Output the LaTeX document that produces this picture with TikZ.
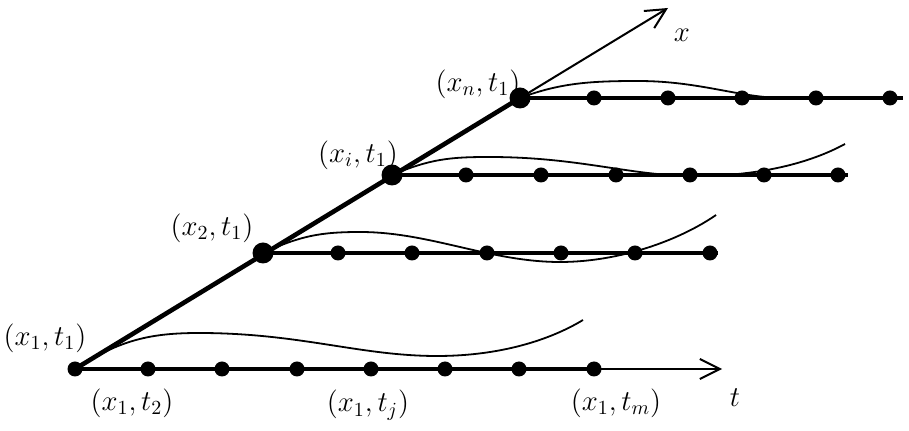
\documentclass[tikz,border=0pt]{standalone}
\usetikzlibrary{arrows.meta}
\begin{document}
\begin{tikzpicture}[x=0.5pt,y=-0.5pt,
  dotnode/.style={circle,fill=black,inner sep=0pt,minimum size=7.5pt},
  bigdot/.style={circle,fill=black,inner sep=0pt,minimum size=10.5pt},
  gridline/.style={line width=1.7pt},
  diagline/.style={line width=2.3pt},
  thinaxis/.style={line width=1pt,-{Straight Barb[length=10pt,width=10pt,line width=1pt]}},
  wave/.style={line width=0.9pt},
  lbl/.style={inner sep=0pt,font=\fontsize{14}{16}\selectfont}]
\useasboundingbox (0,0) rectangle (909,431);
% axes end points
\coordinate (xtip) at (668,8);
\coordinate (ttip) at (722,369);
% bottom row
\node[dotnode] (a0) at (75,369) {};
\foreach \i/\x in {1/148,2/222,3/297,4/371,5/445,6/519,7/594}{
  \node[dotnode] (a\i) at (\x,369) {};
}
% row 2
\node[bigdot] (b0) at (263,253) {};
\foreach \i/\x in {1/338,2/412,3/487,4/561,5/635,6/710}{
  \node[dotnode] (b\i) at (\x,253) {};
}
\coordinate (bend) at (718,253);
% row 3
\node[bigdot] (c0) at (392,175) {};
\foreach \i/\x in {1/466,2/541,3/616,4/690,5/764,6/838}{
  \node[dotnode] (c\i) at (\x,175) {};
}
\coordinate (cend) at (848,175);
% row 4
\node[bigdot] (d0) at (520,98) {};
\foreach \i/\x in {1/594,2/668,3/742,4/816,5/890}{
  \node[dotnode] (d\i) at (\x,98) {};
}
\coordinate (dend) at (903,98);
% lines
\draw[gridline] (a0.center) -- (a7.center);
\draw[thinaxis] (a7.center) -- (ttip);
\draw[gridline] (b0.center) -- (bend);
\draw[gridline] (c0.center) -- (cend);
\draw[gridline] (d0.center) -- (dend);
\draw[diagline] (a0.center) -- (d0.center);
\draw[thinaxis] (d0.center) -- (xtip);
% waves
\draw[wave] (a0.center) .. controls (120,340) and (150,333) .. (199,333)
  .. controls (300,333) and (360,356) .. (437,356)
  .. controls (500,356) and (550,340) .. (583,320);
\draw[wave] (b0.center) .. controls (300,236) and (320,232) .. (360,232)
  .. controls (430,232) and (490,262) .. (560,262)
  .. controls (620,262) and (680,240) .. (716,215);
\draw[wave] (c0.center) .. controls (430,159) and (450,157) .. (489,157)
  .. controls (580,157) and (630,176) .. (695,176)
  .. controls (760,176) and (810,163) .. (845,144);
\draw[wave] (d0.center) .. controls (560,83) and (590,81) .. (638,81)
  .. controls (700,81) and (740,98) .. (784,98) -- (897,98);
% labels
\node[lbl] (l11) at (45,338) {$(x_1,t_1)$};
\node[lbl] (l12) at (132,403) {$(x_1,t_2)$};
\node[lbl] (l1j) at (368,405) {$(x_1,t_j)$};
\node[lbl] (l1m) at (616,403) {$(x_1,t_m)$};
\node[lbl] (lt) at (735,398) {$t$};
\node[lbl] (lx) at (682,35) {$x$};
\node[lbl] (l21) at (212,228) {$(x_2,t_1)$};
\node[lbl] (li1) at (358,155) {$(x_i,t_1)$};
\node[lbl] (ln1) at (478,84) {$(x_n,t_1)$};
\end{tikzpicture}
\end{document}
